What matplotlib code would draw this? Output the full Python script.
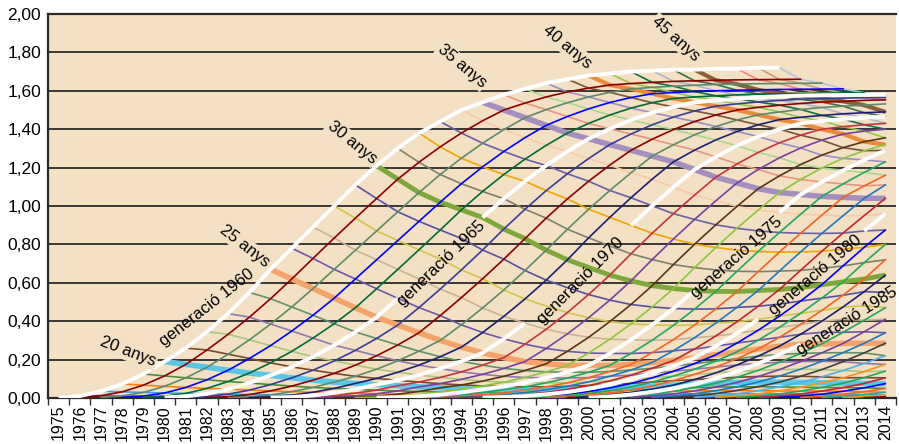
import numpy as np
import matplotlib
matplotlib.use("Agg")
import matplotlib.pyplot as plt

plt.rcParams['font.family'] = ['Liberation Sans', 'DejaVu Sans']

# years on the axis and first age of every cohort curve
years = list(range(1975, 2015))
first_age = 15

# cumulative fertility by age (15, 16, ...) for every generation
gen_1960 = [0.000, 0.010, 0.035, 0.073, 0.125, 0.190, 0.260, 0.345, 0.440, 0.550, 0.670, 0.780, 0.890, 1.000, 1.110, 1.210, 1.300, 1.380, 1.440, 1.500, 1.540, 1.580, 1.610, 1.640, 1.660, 1.680, 1.690, 1.700, 1.705, 1.710, 1.710, 1.715, 1.715, 1.720, 1.720]
gen_1961 = [0.003, 0.012, 0.032, 0.067, 0.115, 0.175, 0.250, 0.332, 0.421, 0.517, 0.620, 0.727, 0.833, 0.937, 1.039, 1.140, 1.228, 1.308, 1.380, 1.444, 1.500, 1.536, 1.568, 1.594, 1.614, 1.630, 1.638, 1.644, 1.649, 1.652, 1.655, 1.657, 1.658, 1.659, 1.660]
gen_1962 = [0.003, 0.011, 0.029, 0.061, 0.105, 0.160, 0.228, 0.303, 0.385, 0.474, 0.570, 0.670, 0.770, 0.870, 0.970, 1.070, 1.164, 1.249, 1.327, 1.398, 1.460, 1.502, 1.538, 1.568, 1.592, 1.610, 1.618, 1.624, 1.629, 1.633, 1.635, 1.637, 1.638, 1.639, 1.640]
gen_1963 = [0.003, 0.010, 0.026, 0.055, 0.095, 0.145, 0.206, 0.273, 0.349, 0.431, 0.520, 0.620, 0.720, 0.820, 0.920, 1.020, 1.116, 1.204, 1.284, 1.356, 1.420, 1.466, 1.506, 1.539, 1.565, 1.585, 1.591, 1.596, 1.600, 1.603, 1.605, 1.607, 1.608, 1.609, 1.610]
gen_1964 = [0.003, 0.009, 0.024, 0.050, 0.086, 0.130, 0.183, 0.243, 0.312, 0.387, 0.470, 0.569, 0.670, 0.772, 0.875, 0.980, 1.076, 1.164, 1.244, 1.316, 1.380, 1.430, 1.474, 1.510, 1.538, 1.560, 1.568, 1.574, 1.579, 1.583, 1.585, 1.587, 1.588, 1.589, 1.590]
gen_1965 = [0.003, 0.009, 0.022, 0.046, 0.078, 0.118, 0.162, 0.215, 0.275, 0.344, 0.420, 0.519, 0.620, 0.724, 0.831, 0.940, 1.038, 1.129, 1.211, 1.284, 1.350, 1.402, 1.448, 1.486, 1.516, 1.540, 1.550, 1.559, 1.566, 1.571, 1.575, 1.577, 1.578, 1.579, 1.580]
gen_1966 = [0.003, 0.008, 0.020, 0.041, 0.070, 0.105, 0.145, 0.193, 0.248, 0.310, 0.380, 0.471, 0.567, 0.667, 0.771, 0.880, 0.983, 1.080, 1.168, 1.247, 1.320, 1.375, 1.423, 1.463, 1.495, 1.520, 1.532, 1.542, 1.550, 1.556, 1.560, 1.562, 1.564, 1.565]
gen_1967 = [0.002, 0.007, 0.018, 0.037, 0.062, 0.093, 0.128, 0.171, 0.220, 0.276, 0.340, 0.429, 0.523, 0.621, 0.723, 0.830, 0.937, 1.037, 1.129, 1.213, 1.290, 1.348, 1.398, 1.440, 1.474, 1.500, 1.514, 1.525, 1.534, 1.541, 1.545, 1.550, 1.553]
gen_1968 = [0.002, 0.006, 0.016, 0.033, 0.055, 0.083, 0.113, 0.150, 0.194, 0.244, 0.300, 0.381, 0.469, 0.563, 0.664, 0.770, 0.879, 0.983, 1.081, 1.173, 1.260, 1.319, 1.371, 1.414, 1.448, 1.475, 1.490, 1.503, 1.513, 1.520, 1.525, 1.532]
gen_1969 = [0.002, 0.006, 0.015, 0.030, 0.050, 0.076, 0.102, 0.134, 0.171, 0.215, 0.265, 0.341, 0.425, 0.516, 0.614, 0.720, 0.834, 0.941, 1.043, 1.140, 1.230, 1.291, 1.344, 1.388, 1.423, 1.450, 1.462, 1.472, 1.480, 1.486, 1.490]
gen_1970 = [0.002, 0.005, 0.013, 0.027, 0.045, 0.070, 0.092, 0.120, 0.153, 0.191, 0.235, 0.308, 0.390, 0.479, 0.575, 0.680, 0.792, 0.899, 1.001, 1.098, 1.190, 1.256, 1.314, 1.362, 1.400, 1.430, 1.443, 1.453, 1.460, 1.465]
gen_1971 = [0.002, 0.005, 0.012, 0.025, 0.041, 0.064, 0.083, 0.107, 0.136, 0.171, 0.210, 0.280, 0.358, 0.445, 0.539, 0.640, 0.751, 0.858, 0.960, 1.057, 1.150, 1.219, 1.279, 1.329, 1.369, 1.400, 1.413, 1.423, 1.430]
gen_1972 = [0.002, 0.004, 0.011, 0.022, 0.037, 0.058, 0.075, 0.097, 0.123, 0.154, 0.190, 0.258, 0.334, 0.418, 0.510, 0.610, 0.721, 0.828, 0.930, 1.027, 1.120, 1.190, 1.251, 1.302, 1.343, 1.375, 1.390, 1.400]
gen_1973 = [0.002, 0.004, 0.010, 0.020, 0.034, 0.053, 0.068, 0.088, 0.113, 0.143, 0.178, 0.243, 0.316, 0.398, 0.487, 0.585, 0.695, 0.801, 0.902, 0.998, 1.090, 1.157, 1.216, 1.265, 1.304, 1.335, 1.355]
gen_1974 = [0.002, 0.004, 0.009, 0.018, 0.031, 0.048, 0.063, 0.082, 0.107, 0.136, 0.170, 0.234, 0.306, 0.386, 0.474, 0.570, 0.679, 0.784, 0.884, 0.979, 1.070, 1.138, 1.198, 1.248, 1.288, 1.320]
gen_1975 = [0.002, 0.004, 0.009, 0.017, 0.029, 0.045, 0.060, 0.080, 0.105, 0.135, 0.170, 0.232, 0.303, 0.381, 0.466, 0.560, 0.667, 0.770, 0.870, 0.966, 1.060, 1.125, 1.185, 1.240, 1.290]
gen_1976 = [0.002, 0.004, 0.008, 0.016, 0.028, 0.043, 0.058, 0.079, 0.104, 0.134, 0.170, 0.232, 0.301, 0.378, 0.463, 0.555, 0.660, 0.763, 0.862, 0.957, 1.050, 1.115, 1.175, 1.230]
gen_1977 = [0.002, 0.004, 0.008, 0.016, 0.027, 0.042, 0.058, 0.079, 0.106, 0.138, 0.175, 0.236, 0.304, 0.380, 0.464, 0.555, 0.658, 0.760, 0.858, 0.952, 1.045, 1.105, 1.160]
gen_1978 = [0.002, 0.004, 0.008, 0.016, 0.028, 0.043, 0.061, 0.084, 0.113, 0.146, 0.185, 0.246, 0.314, 0.390, 0.472, 0.560, 0.661, 0.761, 0.857, 0.949, 1.040, 1.110]
gen_1979 = [0.002, 0.004, 0.009, 0.017, 0.029, 0.045, 0.065, 0.089, 0.119, 0.155, 0.195, 0.255, 0.323, 0.397, 0.478, 0.565, 0.665, 0.764, 0.859, 0.950, 1.040]
gen_1980 = [0.002, 0.005, 0.010, 0.019, 0.031, 0.048, 0.070, 0.097, 0.129, 0.167, 0.210, 0.270, 0.337, 0.410, 0.489, 0.575, 0.675, 0.775, 0.870, 0.960]
gen_1981 = [0.002, 0.005, 0.011, 0.020, 0.034, 0.052, 0.076, 0.105, 0.139, 0.179, 0.225, 0.286, 0.353, 0.426, 0.505, 0.590, 0.688, 0.785, 0.875]
gen_1982 = [0.002, 0.006, 0.013, 0.023, 0.038, 0.057, 0.083, 0.114, 0.150, 0.192, 0.240, 0.301, 0.368, 0.441, 0.520, 0.605, 0.705, 0.800]
gen_1983 = [0.002, 0.006, 0.014, 0.026, 0.042, 0.062, 0.090, 0.123, 0.161, 0.205, 0.255, 0.316, 0.383, 0.456, 0.535, 0.620, 0.720]
gen_1984 = [0.002, 0.007, 0.016, 0.029, 0.046, 0.067, 0.096, 0.131, 0.172, 0.218, 0.270, 0.332, 0.400, 0.474, 0.554, 0.640]
gen_1985 = [0.002, 0.008, 0.018, 0.032, 0.050, 0.072, 0.102, 0.138, 0.180, 0.227, 0.280, 0.342, 0.410, 0.480, 0.550]
gen_1986 = [0.003, 0.009, 0.020, 0.035, 0.054, 0.077, 0.108, 0.144, 0.186, 0.232, 0.282, 0.342, 0.405, 0.470]
gen_1987 = [0.003, 0.010, 0.021, 0.037, 0.057, 0.081, 0.112, 0.148, 0.190, 0.235, 0.284, 0.345, 0.410]
gen_1988 = [0.003, 0.010, 0.022, 0.038, 0.058, 0.083, 0.114, 0.150, 0.191, 0.236, 0.285, 0.340]
gen_1989 = [0.003, 0.011, 0.023, 0.039, 0.059, 0.083, 0.113, 0.148, 0.189, 0.235, 0.285]
gen_1990 = [0.003, 0.010, 0.022, 0.038, 0.058, 0.081, 0.110, 0.143, 0.180, 0.220]
gen_1991 = [0.003, 0.010, 0.021, 0.037, 0.056, 0.079, 0.105, 0.138, 0.175]
gen_1992 = [0.003, 0.010, 0.021, 0.036, 0.055, 0.077, 0.106, 0.140]
gen_1993 = [0.003, 0.010, 0.021, 0.036, 0.054, 0.076, 0.105]
gen_1994 = [0.003, 0.010, 0.020, 0.035, 0.053, 0.075]
gen_1995 = [0.003, 0.009, 0.019, 0.033, 0.050]
gen_1996 = [0.003, 0.009, 0.018, 0.030]
gen_1997 = [0.002, 0.007, 0.015]
gen_1998 = [0.002, 0.006]
gen_1999 = [0.002]

generations = list(range(1960, 2000))
cohorts = [gen_1960, gen_1961, gen_1962, gen_1963, gen_1964, gen_1965, gen_1966, gen_1967,
           gen_1968, gen_1969, gen_1970, gen_1971, gen_1972, gen_1973, gen_1974, gen_1975,
           gen_1976, gen_1977, gen_1978, gen_1979, gen_1980, gen_1981, gen_1982, gen_1983,
           gen_1984, gen_1985, gen_1986, gen_1987, gen_1988, gen_1989, gen_1990, gen_1991,
           gen_1992, gen_1993, gen_1994, gen_1995, gen_1996, gen_1997, gen_1998, gen_1999]

# line colours
gen_colors = ['white', '#8b0000', '#5e8a6a', '#0000ff', '#006b33',
              'white', '#3b3b9a', '#8b0000', '#5e8a6a', '#1f1f70',
              'white', '#c8323c', '#7a3fa0', '#5c3317', '#8cc63f',
              'white', '#20a860', '#f26522', '#1f78c0', '#c0272d',
              'white', '#0000ff', '#20a860', '#f26522', '#1f1f70',
              'white', '#20a860', '#7a3fa0', '#1f78c0', '#404040',
              '#4fb0f0', '#f7941d', '#20a860', '#c0272d', '#0000ff',
              '#f26522', '#20b0a0', '#f7941d', '#8b0000', '#7a3fa0']
age_colors = ['#cc3333', '#8a5aa8', '#3fa0d8', '#ff7f0e', '#4a8f3a',
              '#5bc6e8', '#7a4a2a', '#a8c87a', '#9278b0', '#5e9468',
              '#f4a46a', '#6a5aa8', '#c9b394', '#cfc64a', '#5a50a0',
              '#7ea83c', '#7f806a', '#f2a400', '#6a5fa8', '#fcc9a8',
              '#a58fc0', '#e8967e', '#a8d890', '#9a8ec4', '#7a5535',
              '#ec8a3c', '#90c850', '#126e4c', '#a8b6c8', '#3a6e4e',
              '#8b5e3c', '#dde8cc', '#ee8a78', '#c8a070', '#b8c4d8']
thick_ages = {20: 4, 25: 4, 30: 3.5, 35: 4, 40: 3, 45: 3}

# years hidden on the white curves where the inline label sits
label_gaps = {1965: (1992, 1994), 1970: (1998, 2001), 1975: (2006, 2008),
              1980: (2009, 2012), 1985: (2011, 2014)}

bg = '#f4e1c4'

fig = plt.figure(figsize=(8.99, 4.44), dpi=100)
ax = fig.add_axes([48 / 899, 46 / 444, 848 / 899, 384 / 444])
ax.set_facecolor(bg)


def xpos(year):
    return np.asarray(year) - years[0] + 0.5


# horizontal grid
for v in np.arange(0.2, 2.0, 0.2):
    ax.axhline(v, color='#1a1a1a', lw=1.2, zorder=1)

# iso-age lines
for k, color in enumerate(age_colors):
    age = first_age + k
    pts = [(g + age, vals[k]) for g, vals in zip(generations, cohorts) if len(vals) > k]
    if len(pts) < 1:
        continue
    yr, val = zip(*pts)
    lw = thick_ages.get(age, 1.2)
    ax.plot(xpos(yr), val, color=color, lw=lw, zorder=2.5 if age in thick_ages else 2,
            solid_capstyle='butt')

# generation curves
for g, vals, color in zip(generations, cohorts, gen_colors):
    yr = g + first_age + np.arange(len(vals))
    v = np.array(vals, dtype=float)
    if color == 'white':
        if g in label_gaps:
            a, b = label_gaps[g]
            v[(yr >= a) & (yr <= b)] = np.nan
        ax.plot(xpos(yr), v, color='white', lw=2.8, zorder=5, solid_capstyle='butt')
    else:
        ax.plot(xpos(yr), v, color=color, lw=1.2, zorder=3)

# age labels on the oldest generation
box = dict(facecolor=bg, edgecolor='none', pad=1)
for txt, x, y, rot in [("20 anys", 3.77, 0.24, -21), ("25 anys", 9.29, 0.79, -38),
                       ("30 anys", 14.34, 1.333, -39), ("35 anys", 19.53, 1.73, -40),
                       ("40 anys", 24.48, 1.83, -40), ("45 anys", 29.62, 1.87, -42)]:
    ax.text(x, y, txt, fontsize=12, rotation=rot, ha='center', va='center',
            rotation_mode='anchor', bbox=box, zorder=6)

# generation labels
for txt, x, y, rot in [("generació 1960", 7.5, 0.47, 38), ("generació 1965", 18.54, 0.70, 44),
                       ("generació 1970", 25.1, 0.61, 45), ("generació 1975", 32.5, 0.73, 41),
                       ("generació 1980", 36.2, 0.64, 40), ("generació 1985", 37.7, 0.40, 32)]:
    ax.text(x, y, txt, fontsize=12, rotation=rot, ha='center', va='center',
            rotation_mode='anchor', zorder=6)

ax.set_xlim(0, 40)
ax.set_ylim(0, 2)

ax.set_xticks(np.arange(0, 41))
ax.set_xticklabels([])
ax.set_xticks(xpos(years), minor=True)
ax.set_xticklabels([str(y) for y in years], minor=True, rotation=90, fontsize=11.5)
ax.tick_params(axis='x', which='major', length=5, width=1, color='#333333')
ax.tick_params(axis='x', which='minor', length=0, pad=5)

yt = np.arange(0, 2.01, 0.2)
ax.set_yticks(yt)
ax.set_yticklabels([f"{v:.2f}".replace('.', ',') for v in yt], fontsize=12.5)
ax.tick_params(axis='y', length=0, pad=5)

for s in ['left', 'bottom', 'top']:
    ax.spines[s].set_color('#2a2a2a')
    ax.spines[s].set_linewidth(1.6)
ax.spines['right'].set_visible(False)

fig.savefig('out.png', dpi=100, facecolor='white')
